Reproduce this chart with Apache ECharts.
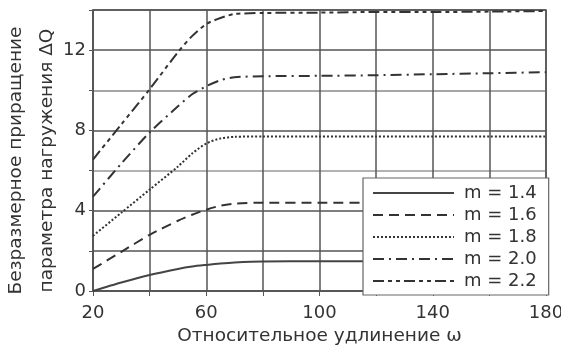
<!DOCTYPE html>
<html>
<head>
<meta charset="utf-8">
<script src="https://cdn.jsdelivr.net/npm/echarts@6/dist/echarts.min.js"></script>
<style>html,body{margin:0;padding:0;background:#fff}#c{width:561px;height:347px}</style>
</head>
<body>
<div id="c"></div>
<script>
const xs = [20, 30, 40, 50, 55, 60, 65, 70, 80, 100, 120, 140, 160, 180];
const m14 = [0, 0.42, 0.8, 1.1, 1.22, 1.3, 1.37, 1.42, 1.47, 1.48, 1.48, 1.48, 1.48, 1.48];
const m16 = [1.1, 1.95, 2.8, 3.5, 3.8, 4.05, 4.25, 4.35, 4.4, 4.4, 4.4, 4.4, 4.4, 4.4];
const m18 = [2.75, 3.9, 5.05, 6.2, 6.85, 7.35, 7.6, 7.68, 7.7, 7.7, 7.7, 7.7, 7.7, 7.7];
const m20 = [4.7, 6.35, 7.9, 9.2, 9.8, 10.2, 10.5, 10.65, 10.7, 10.72, 10.75, 10.8, 10.85, 10.9];
const m22 = [6.55, 8.3, 10.05, 11.9, 12.7, 13.3, 13.6, 13.8, 13.85, 13.87, 13.9, 13.9, 13.92, 13.95];
const names = ['m = 1.4', 'm = 1.6', 'm = 1.8', 'm = 2.0', 'm = 2.2'];
const xLabels = [20, 60, 100, 140, 180];
const yLabels = [0, 4, 8, 12];

const pair = arr => xs.map((x, i) => [x, arr[i]]);
const styles = [
  {color: '#444', width: 2, type: 'solid'},
  {color: '#333', width: 2, type: [10, 6]},
  {color: '#333', width: 2, type: [2, 2]},
  {color: '#333', width: 2, type: [11, 5, 2, 5]},
  {color: '#333', width: 2, type: [11, 4, 4, 4, 4, 4]}
];
const data = [m14, m16, m18, m20, m22];
const font = 'DejaVu Sans, Verdana, sans-serif';

const chart = echarts.init(document.getElementById('c'), null, {renderer: 'canvas'});
chart.setOption({
  animation: false,
  backgroundColor: '#fff',
  grid: {left: 93, right: 15, top: 10, bottom: 56, containLabel: false, outerBoundsMode: 'none',
    show: true, borderColor: '#555', borderWidth: 1.5},
  legend: {
    orient: 'vertical', left: 363, top: 178,
    itemWidth: 81, itemHeight: 14, itemGap: 4,
    padding: [6, 12, 5, 9],
    backgroundColor: '#fff', borderColor: '#666', borderWidth: 1.2,
    itemStyle: {opacity: 0},
    textStyle: {fontFamily: font, fontSize: 18, color: '#333', padding: [0, 0, 0, 5]},
    data: names
  },
  xAxis: {
    type: 'value', min: 20, max: 180, interval: 20,
    name: 'Относительное удлинение ω', nameLocation: 'middle', nameGap: 35,
    nameTextStyle: {fontFamily: font, fontSize: 18.5, color: '#333'},
    axisLine: {lineStyle: {color: '#555', width: 1.5}},
    axisTick: {show: true, length: 5, lineStyle: {color: '#555'}},
    axisLabel: {fontFamily: font, fontSize: 18, color: '#333', margin: 13,
      formatter: v => xLabels.includes(v) ? String(v) : ''},
    splitLine: {show: true, lineStyle: {color: '#555', width: 1.5}}
  },
  yAxis: {
    type: 'value', min: 0, max: 14, interval: 2,
    name: 'Безразмерное приращение\nпараметра нагружения ΔQ', nameLocation: 'middle', nameGap: 30,
    nameMoveOverlap: false,
    nameTextStyle: {fontFamily: font, fontSize: 18.5, color: '#333', lineHeight: 31, padding: [0, 20, 0, 0]},
    axisLine: {show: true, lineStyle: {color: '#555', width: 1.5}},
    axisTick: {show: true, length: 4, lineStyle: {color: '#555'}},
    axisLabel: {fontFamily: font, fontSize: 18, color: '#333', margin: 7,
      formatter: v => yLabels.includes(v) ? String(v) : ''},
    splitLine: {show: true, lineStyle: {color: ['#555', '#555', '#555', '#999', '#555', '#888', '#555', '#555'], width: 1.5}}
  },
  series: data.map((d, i) => ({
    name: names[i], type: 'line', data: pair(d),
    smooth: 0.25, showSymbol: false, symbol: 'none',
    lineStyle: styles[i], itemStyle: {color: styles[i].color}
  }))
});
</script>
</body>
</html>
